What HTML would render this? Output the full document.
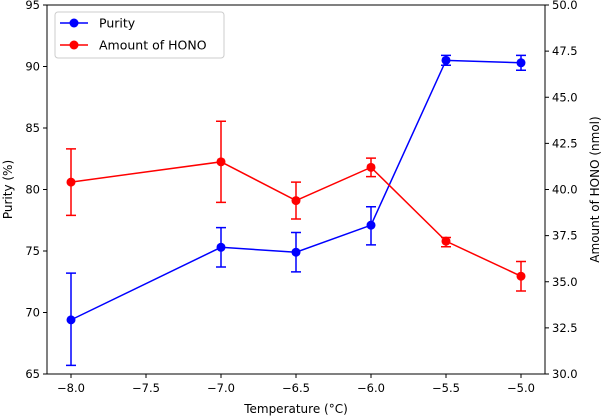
<!DOCTYPE html>
<html><head><meta charset="utf-8">
<style>
html,body{margin:0;padding:0;background:#fff;}
svg{display:block;font-family:"DejaVu Sans","Liberation Sans",sans-serif;}
</style></head>
<body>
<svg id="chart" width="602" height="417" viewBox="0 0 602 417"></svg>
<script>
const temps = [-8, -7, -6.5, -6, -5.5, -5];
const purity = [69.4, 75.3, 74.9, 77.1, 90.5, 90.3];
const purityLo = [65.7, 73.7, 73.3, 75.5, 90.1, 89.7];
const purityHi = [73.2, 76.9, 76.5, 78.6, 90.9, 90.9];
const hono = [40.4, 41.5, 39.4, 41.2, 37.2, 35.3];
const honoLo = [38.6, 39.3, 38.4, 40.7, 36.9, 34.5];
const honoHi = [42.2, 43.7, 40.4, 41.7, 37.4, 36.1];
const xTicks = [-8, -7.5, -7, -6.5, -6, -5.5, -5];
const xTickLabels = ["\u22128.0","\u22127.5","\u22127.0","\u22126.5","\u22126.0","\u22125.5","\u22125.0"];
const yLTicks = [65, 70, 75, 80, 85, 90, 95];
const yRTicks = [30, 32.5, 35, 37.5, 40, 42.5, 45, 47.5, 50];

const L=47,R=545,T=5,B=374;
const x = v => 71 + (v + 8) * 150;
const yL = v => B - (v - 65) / 30 * (B - T);
const yR = v => B - (v - 30) / 20 * (B - T);
const svg = document.getElementById('chart');
const NS = 'http://www.w3.org/2000/svg';
function mk(tag, attrs, parent){ const e=document.createElementNS(NS,tag); for(const k in attrs) e.setAttribute(k,attrs[k]); (parent||svg).appendChild(e); return e; }

function series(vals, lo, hi, ys, color, name){
  const g = mk('g', {});
  
  
  temps.forEach((t,i)=>{
    const cx=x(t);
    const eb = mk('path', {d:`M${cx},${ys(lo[i])}V${ys(hi[i])}M${cx-5},${ys(lo[i])}H${cx+5}M${cx-5},${ys(hi[i])}H${cx+5}`, stroke:color, 'stroke-width':1.5, fill:'none'}, g);
    
    
  });
  const line = mk('polyline', {points: temps.map((t,i)=>x(t)+','+ys(vals[i])).join(' '), stroke:color, 'stroke-width':1.5, fill:'none'}, g);
  
  
  temps.forEach((t,i)=>{
    const c = mk('circle', {cx:x(t), cy:ys(vals[i]), r:4.5, fill:color}, g);
    
    
  });
}
series(purity, purityLo, purityHi, yL, '#0000ff', 'purity');
series(hono, honoLo, honoHi, yR, '#ff0000', 'hono');

const frame = mk('rect', {x:L, y:T, width:R-L, height:B-T, fill:'none', stroke:'#000', 'stroke-width':1});



xTicks.forEach((t,i)=>{
  mk('line',{x1:x(t),x2:x(t),y1:B,y2:B+4,stroke:'#000'});
  const tx = mk('text',{x:x(t),y:B+18,'font-size':11.5,'text-anchor':'middle'}); tx.textContent=xTickLabels[i];
  
  
});
yLTicks.forEach(v=>{
  mk('line',{x1:L-4,x2:L,y1:yL(v),y2:yL(v),stroke:'#000'});
  const tx = mk('text',{x:L-7,y:yL(v)+4,'font-size':11.5,'text-anchor':'end'}); tx.textContent=v;
  
  
});
yRTicks.forEach(v=>{
  mk('line',{x1:R,x2:R+4,y1:yR(v),y2:yR(v),stroke:'#000'});
  const tx = mk('text',{x:R+7,y:yR(v)+4,'font-size':11.5,'text-anchor':'start'}); tx.textContent=v.toFixed(1);
  
  
});
const xt = mk('text',{x:(L+R)/2,y:413,'font-size':12,'text-anchor':'middle'}); xt.textContent='Temperature (°C)';


const ylt = mk('text',{x:0,y:0,'font-size':12,'text-anchor':'middle',transform:`translate(12,${(T+B)/2}) rotate(-90)`}); ylt.textContent='Purity (%)';


const yrt = mk('text',{x:0,y:0,'font-size':12,'text-anchor':'middle',transform:`translate(599,${(T+B)/2}) rotate(-90)`}); yrt.textContent='Amount of HONO (nmol)';



const lg = mk('g',{});


mk('rect',{x:55,y:12,width:169,height:46,rx:3,fill:'#fff',stroke:'#ccc'},lg);
[['Purity','#0000ff',23],['Amount of HONO','#ff0000',45]].forEach(([n,c,yy])=>{
  const e = mk('g',{},lg);
  
  
  mk('line',{x1:60,x2:88,y1:yy,y2:yy,stroke:c,'stroke-width':1.5},e);
  mk('circle',{cx:74,cy:yy,r:4.5,fill:c},e);
  const t = mk('text',{x:99,y:yy+4.5,'font-size':12.5},e); t.textContent=n;
});
</script>
</body></html>
